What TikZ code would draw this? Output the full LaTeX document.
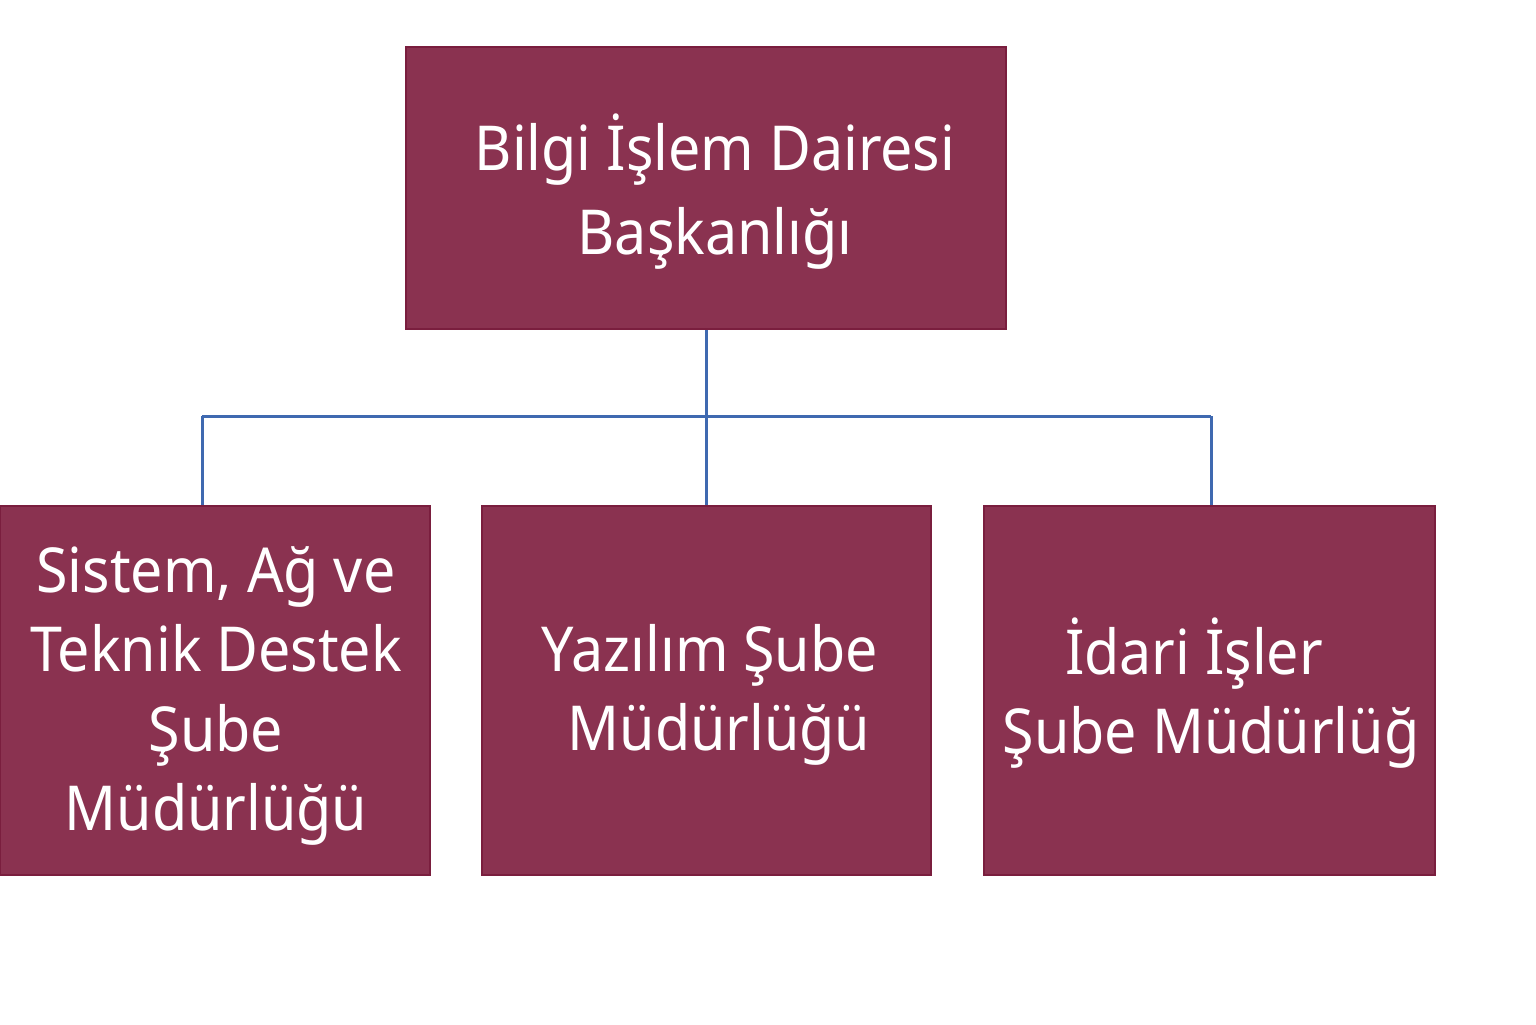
\documentclass[tikz,border=0pt]{standalone}
\usepackage{fontspec}
\setmainfont[FakeStretch=0.925]{Noto Sans}
\definecolor{boxfill}{HTML}{8A3250}
\definecolor{boxline}{HTML}{7A1E3E}
\definecolor{conn}{HTML}{3F69B0}
\begin{document}
\begin{tikzpicture}[x=0.5pt,y=-0.5pt,
  orgbox/.style={draw=boxline, line width=0.8pt, fill=boxfill, inner sep=0pt},
  orgtext/.style={text=white, align=center, inner sep=0pt},
  bigtxt/.style={font=\fontsize{31}{42}\selectfont},
  smalltxt/.style={font=\fontsize{31}{39.7}\selectfont},
  link/.style={draw=conn, line width=1.5pt}]
\useasboundingbox (0,0) rectangle (1536,1024);
\node[orgbox, minimum width=300pt, minimum height=141pt] (top) at (706,188) {};
\node[orgbox, minimum width=215pt, minimum height=184.5pt] (left) at (215,690.5) {};
\node[orgbox, minimum width=224.5pt, minimum height=184.5pt] (mid) at (706.5,690.5) {};
\node[orgbox, minimum width=225.5pt, minimum height=184.5pt] (right) at (1209.5,690.5) {};
\node[orgtext, bigtxt] (toptxt) at (715,192) {Bilgi İşlem Dairesi\\Başkanlığı};
\node[orgtext, smalltxt] (lefttxt) at (216,696) {Sistem, Ağ ve\\Teknik Destek\\Şube\\Müdürlüğü};
\node[orgtext, smalltxt] (midtxt) at (714.5,695) {\hspace*{-4.5pt}Yazılım Şube\\\hspace*{4.5pt}Müdürlüğü};
\node[orgtext, smalltxt] (righttxt) at (1202.5,693) {\hspace*{-8.5pt}İdari İşler\\\hspace*{8.5pt}Şube Müdürlüğ};
\coordinate (junc) at (706,416);
\coordinate (jl) at (202,416);
\coordinate (jr) at (1211,416);
\draw[link] (top.south) -- (junc);
\draw[link] (jl) -- (jr);
\draw[link] (jl) -- (jl |- left.north);
\draw[link] (junc) -- (junc |- mid.north);
\draw[link] (jr) -- (jr |- right.north);
\end{tikzpicture}
\end{document}
